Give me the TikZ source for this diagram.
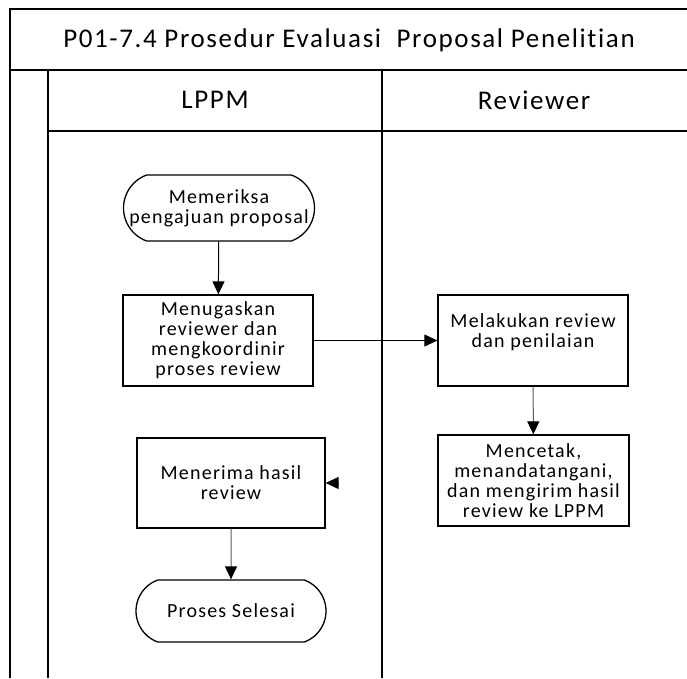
\documentclass[tikz,border=0pt]{standalone}
\usepackage{fontspec}
\setmainfont{Carlito}[Ligatures=NoCommon]
\usetikzlibrary{arrows.meta,shapes.misc}

\begin{document}
\begin{tikzpicture}[x=1pt,y=-1pt,
    lajur/.style={line width=2pt},
    judul/.style={font=\fontsize{27}{30}\selectfont\addfontfeatures{LetterSpace=6}},
    kotak/.style={draw, line width=1.3pt, minimum width=190pt, minimum height=91pt,
      inner sep=0pt, align=center, font=\fontsize{20}{20}\selectfont\addfontfeatures{LetterSpace=6}},
    terminal/.style={kotak, rounded rectangle, rounded rectangle arc length=140},
    panah/.style={-{Triangle[length=13pt,width=12pt]}, line width=1pt},
    panahabu/.style={panah, draw=black!65, -{Triangle[length=13pt,width=12pt,color=black]}}]

\useasboundingbox (0,0) rectangle (687,678);

% kerangka swimlane
\draw[lajur] (687,9) -- (10,9) -- (10,678);
\draw[lajur] (10,70) -- (687,70);
\draw[lajur] (48,70) -- (48,678);
\draw[lajur] (48,131) -- (687,131);
\draw[lajur] (382,70) -- (382,678);

\node[judul] (judul) at (349,40) {P01-7.4 Prosedur Evaluasi\ \ Proposal Penelitian};
\node[judul] (lppm) at (215,100) {LPPM};
\node[judul] (reviewer) at (534,100) {Reviewer};

% lajur LPPM
\node[terminal, minimum width=191pt, minimum height=66pt] (periksa) at (219,208) {Memeriksa\\pengajuan proposal};
\node[kotak] (tugas) at (218,340.5) {Menugaskan\\reviewer dan\\mengkoordinir\\proses review};
\node[kotak, minimum width=188pt, minimum height=90pt] (terima) at (231,483) {Menerima hasil\\review};
\node[terminal, minimum width=190pt, minimum height=62pt] (selesai) at (231,611) {Proses Selesai};

% lajur Reviewer
\node[kotak] (nilai) at (533,340.5) {Melakukan review\\dan penilaian\\\mbox{}};
\node[kotak, minimum width=191pt] (cetak) at (533.5,480.5) {Mencetak,\\menandatangani,\\dan mengirim hasil\\review ke LPPM};

\coordinate (ujung) at (339,483);

\draw[panah] (periksa) -- (tugas);
\draw[panah] (tugas) -- (nilai);
\draw[panahabu] (nilai) -- (cetak);
\draw[panah] (ujung) -- (terima);
\draw[panahabu] (terima) -- (selesai);

\end{tikzpicture}
\end{document}
